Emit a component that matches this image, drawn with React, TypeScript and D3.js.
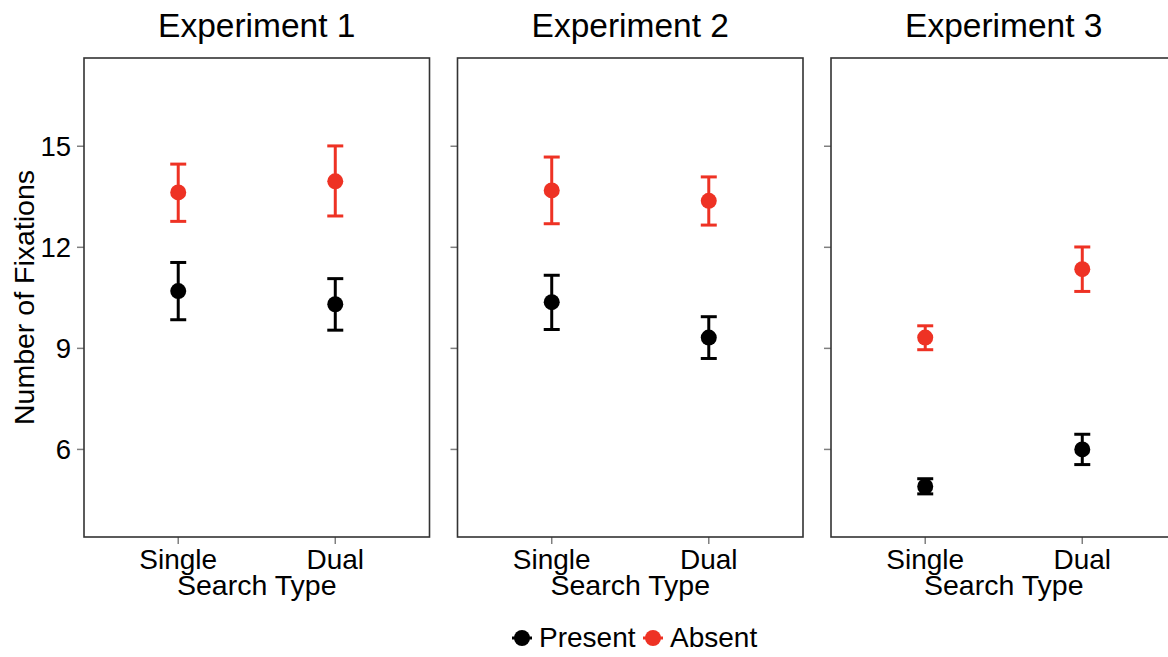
import * as d3 from "d3";

const PANELS = ["Experiment 1", "Experiment 2", "Experiment 3"];
const SEARCH_TYPES = ["Single", "Dual"];
const Y_TICKS = [6, 9, 12, 15];

// mean / lower / upper per panel, [Single, Dual]
const PRESENT_MEAN = [[10.7, 10.31], [10.37, 9.32], [4.9, 6.0]];
const PRESENT_LO = [[9.85, 9.54], [9.56, 8.7], [4.68, 5.55]];
const PRESENT_HI = [[11.55, 11.07], [11.17, 9.94], [5.13, 6.45]];
const ABSENT_MEAN = [[13.63, 13.96], [13.69, 13.38], [9.32, 11.35]];
const ABSENT_LO = [[12.77, 12.93], [12.7, 12.66], [8.96, 10.69]];
const ABSENT_HI = [[14.47, 15.01], [14.68, 14.09], [9.67, 12.01]];

const SERIES = [
  { name: "Present", color: "#000000", mean: PRESENT_MEAN, lo: PRESENT_LO, hi: PRESENT_HI },
  { name: "Absent", color: "#ee3224", mean: ABSENT_MEAN, lo: ABSENT_LO, hi: ABSENT_HI },
];

const W = 1168;
const H = 657;
const FONT = "Liberation Sans, Arial, Helvetica, sans-serif";
const PANEL_LEFT = 84;
const PANEL_W = 345.5;
const PANEL_GAP = 28;
const TOP = 58;
const BOTTOM = 537;

export default function App() {
  const y = d3.scaleLinear().domain([3.4, 17.62]).range([BOTTOM, TOP]);
  const x = d3.scalePoint<string>().domain(SEARCH_TYPES).range([0, PANEL_W]).padding(0.6);

  return (
    <div style={{ position: "fixed", left: 0, top: 0 }}>
      <svg width={W} height={H} style={{ display: "block", background: "#fff" }} fontFamily={FONT}>
        {/* y axis title */}
        <text
          transform={`translate(34,${(TOP + BOTTOM) / 2}) rotate(-90)`}
          textAnchor="middle"
          fontSize={28.5}
          fill="#000"
        >
          Number of Fixations
        </text>
        {Y_TICKS.map((t) => (
          <text key={t} x={71} y={y(t)} dy="0.36em" textAnchor="end" fontSize={27.5} fill="#000">
            {t}
          </text>
        ))}
        {PANELS.map((title, p) => {
          const left = PANEL_LEFT + p * (PANEL_W + PANEL_GAP);
          return (
            <g key={title} transform={`translate(${left},0)`}>
              <text x={PANEL_W / 2} y={37} textAnchor="middle" fontSize={33.5} fill="#000">
                {title}
              </text>
              {Y_TICKS.map((t) => (
                <line key={t} x1={-7} x2={0} y1={y(t)} y2={y(t)} stroke="#7f7f7f" strokeWidth={1.5} />
              ))}
              {SEARCH_TYPES.map((s) => (
                <g key={s}>
                  <line x1={x(s)} x2={x(s)} y1={BOTTOM} y2={BOTTOM + 7} stroke="#7f7f7f" strokeWidth={1.5} />
                  <text x={x(s)} y={569} textAnchor="middle" fontSize={28} fill="#000">
                    {s}
                  </text>
                </g>
              ))}
              <text x={PANEL_W / 2} y={595} textAnchor="middle" fontSize={28.5} fill="#000">
                Search Type
              </text>
              {SERIES.map((ser) =>
                SEARCH_TYPES.map((s, i) => {
                  const cx = x(s) ?? 0;
                  return (
                    <g key={ser.name + s} stroke={ser.color} strokeWidth={3}>
                      <line x1={cx} x2={cx} y1={y(ser.lo[p][i])} y2={y(ser.hi[p][i])} />
                      <line x1={cx - 8} x2={cx + 8} y1={y(ser.lo[p][i])} y2={y(ser.lo[p][i])} />
                      <line x1={cx - 8} x2={cx + 8} y1={y(ser.hi[p][i])} y2={y(ser.hi[p][i])} />
                      <circle cx={cx} cy={y(ser.mean[p][i])} r={8} fill={ser.color} stroke="none" />
                    </g>
                  );
                })
              )}
              <rect
                x={0}
                y={TOP}
                width={PANEL_W}
                height={BOTTOM - TOP}
                fill="none"
                stroke="#333"
                strokeWidth={1.6}
              />
            </g>
          );
        })}
        {/* legend */}
        {SERIES.map((ser, i) => {
          const kx = [522, 653][i];
          return (
            <g key={ser.name}>
              <line x1={kx - 10} x2={kx + 10} y1={638} y2={638} stroke={ser.color} strokeWidth={3} />
              <circle cx={kx} cy={638} r={8} fill={ser.color} />
              <text x={kx + 17} y={647} fontSize={28} fill="#000">
                {ser.name}
              </text>
            </g>
          );
        })}
      </svg>
    </div>
  );
}
